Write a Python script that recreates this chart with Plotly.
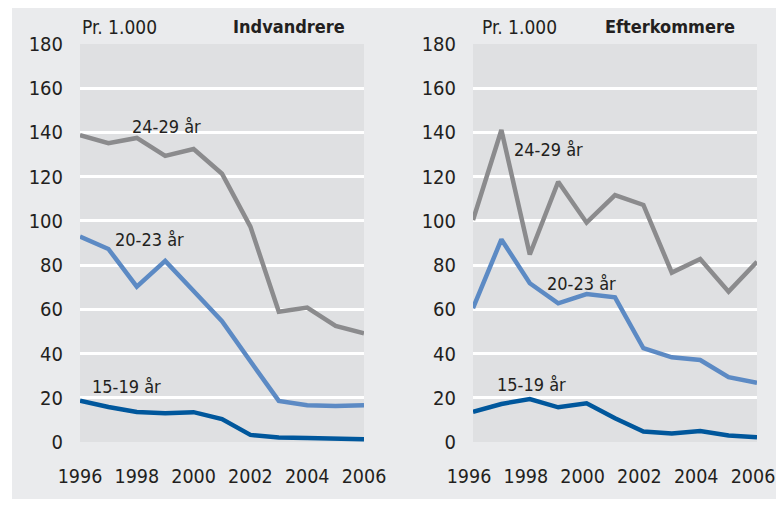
import plotly.graph_objects as go

years = list(range(1996, 2007))

# Indvandrere (immigrants), per 1,000
ind_24_29 = [138.8, 135.1, 137.5, 129.4, 132.5, 121.3, 97.4, 58.9, 60.8, 52.5, 49.2]
ind_20_23 = [92.9, 87.3, 70.3, 81.9, 68.3, 54.6, 36.5, 18.6, 16.6, 16.3, 16.6]
ind_15_19 = [18.7, 15.8, 13.6, 13.0, 13.5, 10.4, 3.2, 2.0, 1.8, 1.5, 1.2]

# Efterkommere (descendants), per 1,000
eft_24_29 = [100.4, 141.1, 84.8, 117.7, 99.2, 111.7, 107.2, 76.6, 82.8, 68.0, 81.5]
eft_20_23 = [60.5, 91.6, 71.8, 62.7, 66.9, 65.4, 42.4, 38.3, 37.1, 29.3, 26.8]
eft_15_19 = [13.7, 17.2, 19.4, 15.7, 17.5, 10.7, 4.7, 3.8, 5.0, 2.9, 2.1]

series_names = ["24-29 år", "20-23 år", "15-19 år"]
colors = ["#8b8b8d", "#5c8ac4", "#00579c"]

panel_titles = ["Indvandrere", "Efterkommere"]
unit_label = "Pr. 1.000"
y_ticks = [0, 20, 40, 60, 80, 100, 120, 140, 160, 180]
x_ticks = [1996, 1998, 2000, 2002, 2004, 2006]

FONT = "Liberation Sans Narrow, DejaVu Sans Condensed, Arial Narrow, sans-serif"
TXT = "#231f20"

# The page places the figure 8px from the top-left corner; keep it inside the window.
W, H = 776, 491
OFF = 8

fig = go.Figure()

panels = [
    ("x", "y", [ind_24_29, ind_20_23, ind_15_19]),
    ("x2", "y2", [eft_24_29, eft_20_23, eft_15_19]),
]
for xa, ya, data in panels:
    for name, vals, col in zip(series_names, data, colors):
        fig.add_trace(go.Scatter(
            x=years, y=vals, mode="lines", name=name, xaxis=xa, yaxis=ya,
            line=dict(color=col, width=4.5), showlegend=False,
            hoverinfo="skip", cliponaxis=False,
        ))

axis_common = dict(
    showline=False, zeroline=False, automargin=False,
)

left_dom = [(80 - OFF) / W, (364 - OFF) / W]
right_dom = [(473 - OFF) / W, (757 - OFF) / W]
y_dom = [(H - (442 - OFF)) / H, (H - (44 - OFF)) / H]

for i, (xa, dom) in enumerate([("xaxis", left_dom), ("xaxis2", right_dom)]):
    fig.update_layout(**{xa: dict(
        domain=dom, range=[1996, 2006], tickvals=x_ticks,
        showgrid=False, ticks="", ticklabelstandoff=20,
        ticklabelshift=0 if i == 0 else -4,
        tickfont=dict(family=FONT, size=19.5, color=TXT),
        anchor="y" if i == 0 else "y2", **axis_common)})

for i, ya in enumerate(["yaxis", "yaxis2"]):
    fig.update_layout(**{ya: dict(
        domain=y_dom, range=[0, 180], tickvals=y_ticks,
        showgrid=True, gridcolor="#ffffff", gridwidth=2.5,
        ticks="", ticklabelstandoff=16,
        tickfont=dict(family=FONT, size=20, color=TXT),
        anchor="x" if i == 0 else "x2", **axis_common)})

# background panel
fig.add_shape(type="rect", xref="paper", yref="paper",
              x0=(12 - OFF) / W, x1=1.02, y0=-0.02, y1=1.02,
              fillcolor="#eaebed", line=dict(width=0), layer="below")
for dom in [left_dom, right_dom]:
    fig.add_shape(type="rect", xref="paper", yref="paper",
                  x0=dom[0], x1=dom[1], y0=y_dom[0], y1=y_dom[1],
                  fillcolor="#dfe0e2", line=dict(width=0), layer="below")

annotations = []
# panel headers
for j, (xr, yr, title, ux, tx) in enumerate([
    ("x domain", "y domain", panel_titles[0], 0.0, 0.94),
    ("x2 domain", "y2 domain", panel_titles[1], 0.025, 0.93),
]):
    annotations.append(dict(xref=xr, yref=yr, x=ux, y=1.043, text=unit_label,
                            showarrow=False, xanchor="left", yanchor="middle",
                            font=dict(family=FONT, size=19, color=TXT)))
    annotations.append(dict(xref=xr, yref=yr, x=tx, y=1.043, text="<b>" + title + "</b>",
                            showarrow=False, xanchor="right", yanchor="middle",
                            font=dict(family=FONT, size=18, color=TXT)))

# series labels (data coords)
label_pos = [
    ("x", "y", 1997.76, 142.9, series_names[0]),
    ("x", "y", 1997.16, 91.8, series_names[1]),
    ("x", "y", 1996.35, 25.3, series_names[2]),
    ("x2", "y2", 1997.37, 132.1, series_names[0]),
    ("x2", "y2", 1998.54, 71.9, series_names[1]),
    ("x2", "y2", 1996.77, 26.2, series_names[2]),
]
for xr, yr, x, y, t in label_pos:
    annotations.append(dict(xref=xr, yref=yr, x=x, y=y, text=t, showarrow=False,
                            xanchor="left", yanchor="middle",
                            font=dict(family=FONT, size=18, color=TXT)))

fig.update_layout(
    annotations=annotations,
    width=W, height=H,
    margin=dict(l=0, r=0, t=0, b=0),
    paper_bgcolor="#ffffff",
    plot_bgcolor="rgba(0,0,0,0)",
    font=dict(family=FONT, color=TXT),
)

fig.write_html("out.html")
